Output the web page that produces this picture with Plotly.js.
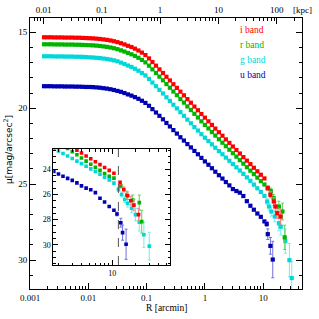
<!DOCTYPE html>
<html><head><meta charset="utf-8">
<script src="https://cdn.plot.ly/plotly-3.0.1.min.js"></script>
<style>html,body{margin:0;padding:0;background:#fff}#plot{width:319px;height:319px}</style>
</head><body><div id="plot"></div>
<script>
// ---- data (R in arcmin, mu in mag/arcsec^2) ----
const radius = [0.00174,0.00200,0.00229,0.00263,0.00302,0.00347,0.00398,0.00457,0.00525,0.00603,0.00692,0.00794,0.00912,
 0.0105,0.0120,0.0138,0.0158,0.0182,0.0209,0.0240,0.0275,0.0316,0.0363,0.0417,0.0479,0.0550,0.0631,0.0724,0.0832,0.0955,
 0.110,0.126,0.145,0.166,0.191,0.219,0.251,0.288,0.331,0.380,0.437,0.501,0.575,0.661,0.759,0.871,1.00,
 1.15,1.32,1.51,1.74,2.00,2.29,2.63,3.02,3.47,3.98,4.57,5.25,6.03,6.92,7.94,9.12,10.5];
const muI = [15.33,15.33,15.33,15.34,15.34,15.34,15.35,15.35,15.35,15.36,15.36,15.37,15.38,
 15.39,15.40,15.42,15.44,15.47,15.50,15.54,15.59,15.65,15.72,15.80,15.89,15.97,16.08,16.20,16.34,16.50,
 16.72,16.96,17.20,17.44,17.68,17.93,18.17,18.42,18.66,18.91,19.15,19.40,19.64,19.89,20.13,20.38,20.62,
 20.86,21.10,21.34,21.58,21.81,22.05,22.28,22.52,22.75,22.98,23.22,23.45,23.68,23.92,24.15,24.38,24.62];
const muR = [15.79,15.79,15.79,15.80,15.80,15.80,15.81,15.81,15.81,15.82,15.82,15.83,15.84,
 15.85,15.86,15.88,15.90,15.93,15.96,16.00,16.05,16.11,16.19,16.27,16.36,16.45,16.56,16.68,16.82,16.98,
 17.20,17.44,17.68,17.92,18.16,18.41,18.65,18.90,19.14,19.39,19.63,19.88,20.12,20.37,20.61,20.86,21.10,
 21.33,21.57,21.80,22.04,22.27,22.50,22.73,22.96,23.19,23.42,23.65,23.88,24.11,24.34,24.57,24.80,25.02];
const muG = [16.58,16.58,16.58,16.59,16.59,16.59,16.60,16.60,16.60,16.61,16.61,16.62,16.63,
 16.65,16.66,16.68,16.70,16.73,16.76,16.80,16.85,16.91,17.00,17.09,17.19,17.28,17.40,17.53,17.68,17.84,
 18.07,18.31,18.55,18.79,19.03,19.28,19.52,19.77,20.01,20.26,20.50,20.75,20.99,21.24,21.47,21.71,21.94,
 22.16,22.38,22.60,22.82,23.03,23.25,23.46,23.68,23.89,24.10,24.32,24.55,24.78,25.03,25.27,25.51,25.77];
const muU = [18.55,18.55,18.55,18.56,18.56,18.56,18.57,18.57,18.57,18.58,18.58,18.59,18.60,
 18.60,18.61,18.63,18.65,18.68,18.71,18.75,18.80,18.86,18.92,19.00,19.09,19.17,19.27,19.38,19.51,19.65,
 19.84,20.06,20.28,20.50,20.73,20.97,21.20,21.44,21.67,21.91,22.13,22.36,22.58,22.81,23.03,23.27,23.50,
 23.72,23.95,24.18,24.41,24.63,24.86,25.08,25.32,25.45,25.56,25.78,26.12,26.42,26.68,26.93,27.15,27.45];

// outer points with errors (main panel)
const outRI = [12.0,13.3,15.2,16.2,17.4,19.8];
const outMuI = [25.26,25.70,26.14,26.47,26.91,27.13];
const outErrI = [0.15,0.2,0.25,0.3,0.35,0.5];
const outRR = [12.0,13.5,15.1,18.6,21.4,23.4];
const outMuR = [25.25,25.45,25.92,26.47,26.80,28.5];
const outErrR = [0.15,0.2,0.25,0.35,0.55,0.8];
const outRG = [11.7,12.6,13.8,15.8,18.6,20.0,24.0,28.2,30.9];
const outMuG = [26.14,26.47,26.80,27.13,27.57,27.80,28.75,30.0,31.18];
const outErrG = [0.2,0.25,0.3,0.35,0.5,0.55,0.8,1.1,1.1];
const outRU = [11.5,12.0,13.3,14.6];
const outMuU = [27.62,28.29,29.06,29.96];
const outErrU = [0.15,0.35,0.55,1.2];

// inset panel
const insetRadius = [1.74,2.00,2.29,2.63,3.02,3.47,3.98,4.57,5.25,6.03,6.92,7.94,9.12,10.5];
const insMuI = [21.33,21.56,21.79,22.02,22.25,22.48,22.71,22.94,23.17,23.40,23.63,23.86,24.09,24.32];
const insMuR = [21.60,21.85,22.10,22.35,22.60,22.85,23.10,23.35,23.60,23.84,24.09,24.33,24.55,24.70];
const insMuG = [22.35,22.55,22.75,22.95,23.15,23.35,23.55,23.76,23.97,24.18,24.40,24.62,24.84,25.10];
const insMuU = [24.18,24.38,24.55,24.72,24.88,25.08,25.32,25.50,25.62,25.85,26.30,26.60,26.95,27.25];
const insOutRI = [12.6,14.1,15.8,17.4,19.1,21.9];
const insOutMuI = [25.06,25.6,26.1,26.5,26.85,27.6];
const insOutErrI = [0.15,0.2,0.3,0.35,0.45,0.5];
const insOutRR = [12.9,15.4,18.4,22.4,24.1];
const insOutMuR = [25.33,26.04,26.44,26.65,28.16];
const insOutErrR = [0.15,0.3,0.4,0.6,0.9];
const insOutRG = [12.0,13.2,14.5,15.8,17.8,20.0,22.4,25.7,30.2];
const insOutMuG = [25.6,26.0,26.4,26.7,27.1,27.6,28.2,29.2,30.1];
const insOutErrG = [0.15,0.2,0.25,0.3,0.35,0.5,0.7,1.0,1.1];
const insOutRU = [11.5,12.9,13.6,15.1];
const insOutMuU = [27.55,28.24,29.03,29.95];
const insOutErrU = [0.15,0.35,0.6,1.2];
const breakRadius = 12.0;

const bandNames = ['i band','r band','g band','u band'];
const botTicks = [0.001,0.01,0.1,1,10];
const botText = ['0.001','0.01','0.1','1','10'];
const topTicks = [0.01,0.1,1,10,100];
const topText = ['0.01','0.1','1','10','100'];
const yTicks = [15,20,25,30];
const insYTicks = [24,26,28,30];
const insXTicks = [10];

// ---- styling ----
const cols = ['#ff0000','#00b400','#00d8d8','#0000b4'];
const ecols = ['#ff8080','#60d060','#70eeee','#7070dd'];
const serif = 'Liberation Serif';
const ms = 4.2;
const msIns = 3.6;

const mainSets = [
  [muI, outRI, outMuI, outErrI],
  [muR, outRR, outMuR, outErrR],
  [muG, outRG, outMuG, outErrG],
  [muU, outRU, outMuU, outErrU]
];
const insSets = [
  [insMuI, insOutRI, insOutMuI, insOutErrI],
  [insMuR, insOutRR, insOutMuR, insOutErrR],
  [insMuG, insOutRG, insOutMuG, insOutErrG],
  [insMuU, insOutRU, insOutMuU, insOutErrU]
];
const traces = [];
const order = [3,2,1,0];
order.forEach(b => {
  const s = mainSets[b];
  traces.push({x: radius, y: s[0], mode:'markers', type:'scatter', xaxis:'x', yaxis:'y',
    marker:{symbol:'square', size:ms, color:cols[b]}, showlegend:false, hoverinfo:'skip'});
  traces.push({x: s[1], y: s[2], mode:'markers', type:'scatter', xaxis:'x', yaxis:'y',
    marker:{symbol:'square', size:ms, color:cols[b]},
    error_y:{type:'data', array:s[3], visible:true, color:ecols[b], thickness:1, width:1.5},
    showlegend:false, hoverinfo:'skip'});
});
order.forEach(b => {
  const s = insSets[b];
  traces.push({x: insetRadius, y: s[0], mode:'markers', type:'scatter', xaxis:'x3', yaxis:'y3',
    marker:{symbol:'square', size:msIns, color:cols[b]}, showlegend:false, hoverinfo:'skip'});
  traces.push({x: s[1], y: s[2], mode:'markers', type:'scatter', xaxis:'x3', yaxis:'y3',
    marker:{symbol:'square', size:msIns, color:cols[b]},
    error_y:{type:'data', array:s[3], visible:true, color:ecols[b], thickness:1, width:1.5},
    showlegend:false, hoverinfo:'skip'});
});
// invisible trace so the top (kpc) axis is drawn
traces.push({x:[1], y:[14.5], xaxis:'x2', yaxis:'y', mode:'markers', marker:{opacity:0, size:1}, showlegend:false, hoverinfo:'skip'});

const tickFont = {family: serif, size: 9, color:'#000'};
const L = 30, R = 17, T = 18, B = 30;
const W = 319 - L - R, H = 319 - T - B;
const px = v => (v - L) / W;
const py = v => (319 - B - v) / H;

const annotations = bandNames.map((n, i) => ({
  text: n, xref:'paper', yref:'paper', x: px(238), y: py(30 + 15*i), xanchor:'left', yanchor:'middle',
  showarrow:false, font:{family: serif, size: 9.5, color: cols[i]}
}));
annotations.push({text:'[kpc]', xref:'paper', yref:'paper', x: px(302), y: py(10), xanchor:'center', yanchor:'middle', showarrow:false, font:tickFont});
annotations.push({text:'R [arcmin]', xref:'paper', yref:'paper', x: px(166), y: py(308), xanchor:'center', yanchor:'middle', showarrow:false, font:{family: serif, size: 9.5, color:'#000'}});
annotations.push({text:'μ[mag/arcsec<sup>2</sup>]', xref:'paper', yref:'paper', x: px(8), y: py(150), xanchor:'center', yanchor:'middle', textangle:-90, showarrow:false, font:{family:'DejaVu Sans', size: 9, color:'#000'}});

const axBase = {showline:true, linecolor:'#000', linewidth:1, showgrid:false, zeroline:false, ticks:'inside', tickcolor:'#000', tickfont: tickFont};

const layout = {
  width:319, height:319, margin:{l:L, r:R, t:T, b:B, pad:0},
  paper_bgcolor:'#fff', plot_bgcolor:'#fff', showlegend:false,
  xaxis: Object.assign({}, axBase, {type:'log', range:[-3, 1.666], tickmode:'array', tickvals: botTicks, ticktext: botText, ticklen:6,
     minor:{dtick:'D1', ticks:'inside', ticklen:3, tickcolor:'#000', showgrid:false}, anchor:'y', domain:[0,1]}),
  xaxis2: Object.assign({}, axBase, {type:'log', range:[-2.232, 2.434], overlaying:'x', side:'top', anchor:'y', tickmode:'array', tickvals: topTicks, ticktext: topText, ticklen:6,
     minor:{dtick:'D1', ticks:'inside', ticklen:3, tickcolor:'#000', showgrid:false}}),
  yaxis: Object.assign({}, axBase, {range:[31.9, 14.06], tickmode:'array', tickvals: yTicks, ticklen:6, mirror:'ticks',
     minor:{dtick:1, tick0:0, ticks:'inside', ticklen:3, tickcolor:'#000', showgrid:false}, anchor:'x', domain:[0,1]}),
  xaxis3: Object.assign({}, axBase, {type:'log', range:[0.234, 1.749], domain:[px(53.3), px(170)], anchor:'y3', mirror:'ticks',
     tickmode:'array', tickvals: insXTicks, ticklen:5, tickfont:{family:serif, size:8, color:'#000'},
     minor:{dtick:'D1', ticks:'inside', ticklen:2.5, tickcolor:'#000', showgrid:false}}),
  yaxis3: Object.assign({}, axBase, {range:[31.6, 22.39], domain:[py(265), py(149)], anchor:'x3', mirror:'ticks',
     tickmode:'array', tickvals: insYTicks, ticklen:5, tickfont:{family:serif, size:8, color:'#000'},
     minor:{dtick:0.5, tick0:0, ticks:'inside', ticklen:2.5, tickcolor:'#000', showgrid:false}}),
  shapes:[{type:'line', xref:'x3', yref:'y3 domain', x0: breakRadius, x1: breakRadius, y0:0, y1:1,
     line:{color:'#555', width:1, dash:'dash'}}],
  annotations: annotations
};
Plotly.newPlot('plot', traces, layout, {staticPlot:true, displayModeBar:false});
</script>
</body></html>
